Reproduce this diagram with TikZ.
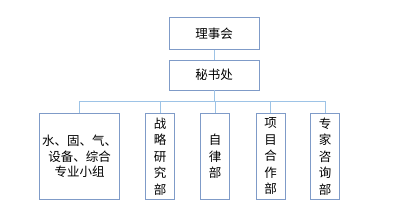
\documentclass[tikz,border=0pt]{standalone}
\usepackage{fontspec}
\setmainfont{Noto Sans CJK SC}
\usetikzlibrary{positioning}
\definecolor{boxline}{HTML}{7F9BC8}
\definecolor{linkline}{HTML}{9DC3E6}

\begin{document}
\begin{tikzpicture}[
  x=1pt, y=-1pt,
  font=\fontsize{12.5}{16}\selectfont,
  org/.style={draw=boxline, line width=0.9pt, fill=white, align=center, inner sep=0pt},
  top/.style={org, minimum width=90pt, minimum height=32pt},
  dept/.style={org, minimum width=29pt, minimum height=86pt, font=\fontsize{12.5}{16.5}\selectfont},
  link/.style={draw=linkline, line width=0.9pt}
]
\useasboundingbox (0,0) rectangle (394,224);

%% ===== upper levels =====
\node[top] (council) at (214,33.5) {理事会};
\node[top, minimum height=30pt] (office) at (214,75) {秘书处};
\coordinate (bar) at (214,101);

%% ===== departments =====
\node[dept, minimum width=80pt, font=\fontsize{12.5}{15.5}\selectfont] (grp) at (79.5,156.5) {水、固、气、\\设备、综合\\专业小组};
\node[dept] (strat) at (160,156.5) {战\\略\\研\\究\\部};
\node[dept] (disc) at (215,156.5) {自\\律\\部};
\node[dept] (proj) at (270.5,156.5) {项\\目\\合\\作\\部};
\node[dept] (expert) at (325,156.5) {专\\家\\咨\\询\\部};

%% ===== connectors =====
\draw[link] (council.south) -- (office.north);
\draw[link] (office.south) -- (bar);
\foreach \d in {grp,strat,disc,proj,expert}
  \draw[link] (bar) -| (\d.north);
\end{tikzpicture}
\end{document}
